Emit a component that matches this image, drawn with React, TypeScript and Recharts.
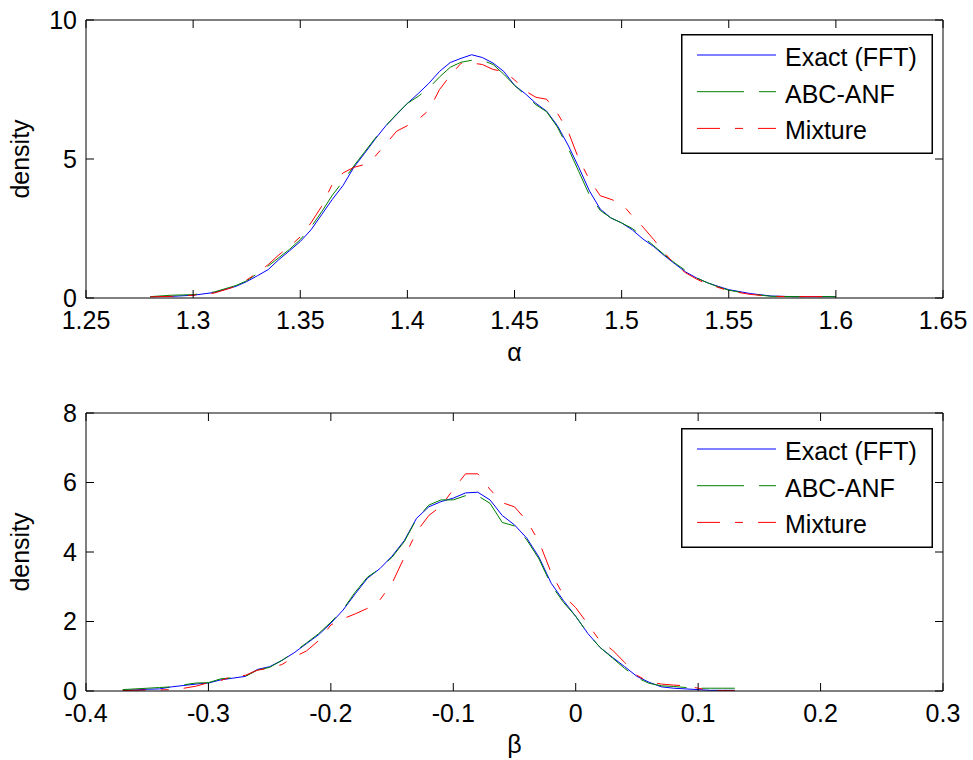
import { LineChart, Line, XAxis, YAxis } from "recharts";

// ---- alpha panel (top) ----
const alphaGrid = [
  1.28, 1.29, 1.3, 1.31, 1.32,
  1.325, 1.33, 1.335, 1.34, 1.345, 1.35, 1.355, 1.36, 1.365, 1.37,
  1.375, 1.38, 1.385, 1.39, 1.395, 1.4, 1.405, 1.41, 1.415, 1.42,
  1.425, 1.43, 1.435, 1.44, 1.445, 1.45, 1.455, 1.46, 1.465, 1.47,
  1.475, 1.48, 1.485, 1.49, 1.495, 1.5, 1.505, 1.51, 1.515, 1.52,
  1.525, 1.53, 1.535, 1.54, 1.545,
  1.55, 1.56, 1.57, 1.58, 1.59, 1.6,
];
const alphaExact = [
  0.05, 0.06, 0.1, 0.2, 0.42,
  0.59, 0.8, 1.02, 1.38, 1.7, 2.03, 2.45, 3.0, 3.55, 4.05,
  4.7, 5.2, 5.72, 6.2, 6.6, 7.0, 7.35, 7.72, 8.15, 8.47,
  8.62, 8.75, 8.65, 8.45, 8.15, 7.65, 7.35, 7.0, 6.72, 6.2,
  5.5, 4.7, 3.85, 3.2, 2.88, 2.7, 2.45, 2.12, 1.85, 1.52,
  1.22, 0.93, 0.72, 0.55, 0.42,
  0.3, 0.16, 0.07, 0.05, 0.05, 0.05,
];
const alphaAbc = [
  0.05, 0.1, 0.12, 0.22, 0.45,
  0.62, 0.88, 1.15, 1.45, 1.75, 2.1, 2.55, 3.1, 3.7, 4.2,
  4.75, 5.25, 5.75, 6.2, 6.62, 7.0, 7.25, 7.55, 7.95, 8.3,
  8.48, 8.55, 8.55, 8.4, 8.05, 7.65, 7.3, 6.95, 6.7, 6.15,
  5.4, 4.55, 3.7, 3.15, 2.88, 2.7, 2.5, 2.2, 1.88, 1.55,
  1.25, 0.98, 0.72, 0.55, 0.4,
  0.28, 0.14, 0.06, 0.05, 0.05, 0.05,
];
const alphaMix = [
  0.04, 0.06, 0.1, 0.18, 0.42,
  0.65, 0.9, 1.2, 1.55, 1.85, 2.2, 2.7, 3.3, 4.1, 4.5,
  4.7, 4.8, 5.1, 5.55, 6.0, 6.2, 6.42, 6.75, 7.5, 8.0,
  8.44, 8.45, 8.4, 8.22, 8.15, 7.85, 7.45, 7.22, 7.15, 6.65,
  6.0, 5.0, 4.25, 3.68, 3.55, 3.4, 2.95, 2.55, 2.1, 1.62,
  1.2, 0.9, 0.68, 0.5, 0.38,
  0.26, 0.13, 0.06, 0.05, 0.05, 0.05,
];
const alphaTicks = [1.25, 1.3, 1.35, 1.4, 1.45, 1.5, 1.55, 1.6, 1.65];
const alphaYTicks = [0, 5, 10];

// ---- beta panel (bottom) ----
const betaGrid = [
  -0.37, -0.36, -0.35, -0.34, -0.33, -0.32, -0.31, -0.3, -0.29, -0.28,
  -0.27, -0.26, -0.25, -0.24, -0.23, -0.22, -0.21, -0.2, -0.19, -0.18,
  -0.17, -0.16, -0.15, -0.14, -0.13, -0.12, -0.11, -0.1, -0.09, -0.08,
  -0.07, -0.06, -0.05, -0.04, -0.03, -0.02, -0.01, 0, 0.01, 0.02,
  0.03, 0.04, 0.05, 0.06, 0.07, 0.08, 0.09, 0.1, 0.11, 0.12,
  0.13,
];
const betaExact = [
  0.02, 0.03, 0.05, 0.06, 0.12, 0.16, 0.2, 0.23, 0.32, 0.37,
  0.42, 0.62, 0.7, 0.88, 1.1, 1.36, 1.62, 1.95, 2.33, 2.8,
  3.25, 3.52, 3.88, 4.33, 4.97, 5.3, 5.45, 5.55, 5.7, 5.72,
  5.5, 5.05, 4.78, 4.4, 3.85, 3.1, 2.6, 2.15, 1.65, 1.25,
  0.97, 0.7, 0.42, 0.25, 0.12, 0.08, 0.06, 0.04, 0.02, 0.02,
  0.02,
];
const betaAbc = [
  0.04, 0.06, 0.08, 0.1, 0.12, 0.18, 0.23, 0.24, 0.35, 0.38,
  0.42, 0.6, 0.68, 0.88, 1.12, 1.38, 1.65, 1.98, 2.35, 2.85,
  3.28, 3.52, 3.85, 4.3, 4.95, 5.35, 5.5, 5.5, 5.62, 5.62,
  5.4, 4.85, 4.75, 4.35, 3.8, 3.05, 2.55, 2.15, 1.65, 1.25,
  0.95, 0.65, 0.38, 0.22, 0.15, 0.13, 0.1, 0.08, 0.08, 0.08,
  0.08,
];
const betaMix = [
  0.01, 0.02, 0.03, 0.03, 0.04, 0.08, 0.14, 0.24, 0.3, 0.43,
  0.45, 0.6, 0.66, 0.76, 0.98, 1.15, 1.45, 1.9, 2.08, 2.22,
  2.38, 2.62, 3.1, 3.85, 4.58, 5.05, 5.32, 5.8, 6.25, 6.25,
  5.8, 5.42, 5.3, 4.9, 4.3, 3.4, 2.75, 2.4, 1.92, 1.43,
  1.18, 0.82, 0.45, 0.26, 0.2, 0.17, 0.15, 0.08, 0.02, 0.01,
  0.01,
];
const betaTicks = [-0.4, -0.3, -0.2, -0.1, 0, 0.1, 0.2, 0.3];
const betaYTicks = [0, 2, 4, 6, 8];

const series = [
  { key: "exact", name: "Exact (FFT)", color: "#0000ff", dash: undefined },
  { key: "abc", name: "ABC-ANF", color: "#008000", dash: "47 15" },
  { key: "mix", name: "Mixture", color: "#ff0000", dash: "23 15 8 15" },
];

const FONT = "'Liberation Sans', Arial, Helvetica, sans-serif";
const FS = 25;
const tickStyle = { fill: "#000", fontSize: FS, fontFamily: FONT };
const blank = () => "";

function toRows(grid: number[], exact: number[], abc: number[], mix: number[]) {
  return grid.map((x, i) => ({ x, exact: exact[i], abc: abc[i], mix: mix[i] }));
}

function LegendBox({ top }: { top: number }) {
  return (
    <svg
      style={{ position: "absolute", left: 681, top }}
      width={253}
      height={121}
    >
      <rect x={0.75} y={0.75} width={250.5} height={118.5} fill="#fff" stroke="#000" strokeWidth={1.5} />
      {series.map((s, i) => {
        const y = 21 + i * 36.7;
        return (
          <g key={s.key}>
            <line x1={16} x2={95} y1={y} y2={y} stroke={s.color} strokeWidth={1} strokeDasharray={s.dash} />
            <text x={104} y={y + 11} fontSize={FS} fontFamily={FONT} fill="#000">
              {s.name}
            </text>
          </g>
        );
      })}
    </svg>
  );
}

interface PanelProps {
  rows: { x: number; exact: number; abc: number; mix: number }[];
  xDomain: [number, number];
  xTicks: number[];
  yDomain: [number, number];
  yTicks: number[];
  xLabel: string;
  height: number;
  xAxisHeight: number;
  labelOffset: number;
}

function DensityPanel({ rows, xDomain, xTicks, yDomain, yTicks, xLabel, height, xAxisHeight, labelOffset }: PanelProps) {
  return (
    <LineChart width={973} height={height} data={rows} margin={{ top: 19, right: 29, bottom: 0, left: 0 }}>
      <XAxis
        dataKey="x"
        type="number"
        domain={xDomain}
        ticks={xTicks}
        interval={0}
        height={xAxisHeight}
        stroke="#000"
        tickSize={-8}
        tickMargin={21}
        tick={tickStyle}
        allowDataOverflow
        label={{ value: xLabel, position: "insideBottom", offset: labelOffset, fill: "#000", fontSize: FS, fontFamily: FONT }}
      />
      {/* mirrored box axes (top / right) with inward ticks, as in MATLAB "box on" */}
      <XAxis
        xAxisId="top"
        dataKey="x"
        orientation="top"
        type="number"
        domain={xDomain}
        ticks={xTicks}
        interval={0}
        height={1}
        stroke="#000"
        tickSize={-8}
        tickFormatter={blank}
        allowDataOverflow
      />
      <YAxis
        type="number"
        domain={yDomain}
        ticks={yTicks}
        interval={0}
        width={86}
        stroke="#000"
        tickSize={-8}
        tickMargin={17}
        tick={tickStyle}
        allowDataOverflow
        label={{
          value: "density",
          angle: -90,
          position: "insideLeft",
          offset: 20,
          fill: "#000",
          fontSize: FS,
          fontFamily: FONT,
          textAnchor: "middle",
          style: { textAnchor: "middle" },
        }}
      />
      <YAxis
        yAxisId="r"
        orientation="right"
        type="number"
        domain={yDomain}
        ticks={yTicks}
        interval={0}
        width={1}
        stroke="#000"
        tickSize={-8}
        tickFormatter={blank}
        allowDataOverflow
      />
      {/* invisible series so the mirrored axes get a scale */}
      <Line
        xAxisId="top"
        yAxisId="r"
        dataKey="exact"
        stroke="none"
        dot={false}
        activeDot={false}
        legendType="none"
        isAnimationActive={false}
      />
      {series.map((s) => (
        <Line
          key={s.key}
          type="linear"
          dataKey={s.key}
          name={s.name}
          stroke={s.color}
          strokeWidth={1}
          strokeDasharray={s.dash}
          dot={false}
          activeDot={false}
          isAnimationActive={false}
        />
      ))}
    </LineChart>
  );
}

export default function App() {
  const alphaRows = toRows(alphaGrid, alphaExact, alphaAbc, alphaMix);
  const betaRows = toRows(betaGrid, betaExact, betaAbc, betaMix);
  return (
    <div style={{ position: "absolute", left: 0, top: 0, width: 973, height: 760, background: "#fff", fontFamily: FONT }}>
      <div style={{ position: "absolute", left: 0, top: 0 }}>
        <DensityPanel
          rows={alphaRows}
          xDomain={[1.25, 1.65]}
          xTicks={alphaTicks}
          yDomain={[0, 10]}
          yTicks={alphaYTicks}
          xLabel="α"
          height={380}
          xAxisHeight={82}
          labelOffset={19}
        />
      </div>
      <LegendBox top={34} />
      <div style={{ position: "absolute", left: 0, top: 393 }}>
        <DensityPanel
          rows={betaRows}
          xDomain={[-0.4, 0.3]}
          xTicks={betaTicks}
          yDomain={[0, 8]}
          yTicks={betaYTicks}
          xLabel="β"
          height={367}
          xAxisHeight={69}
          labelOffset={7}
        />
      </div>
      <LegendBox top={428} />
    </div>
  );
}
